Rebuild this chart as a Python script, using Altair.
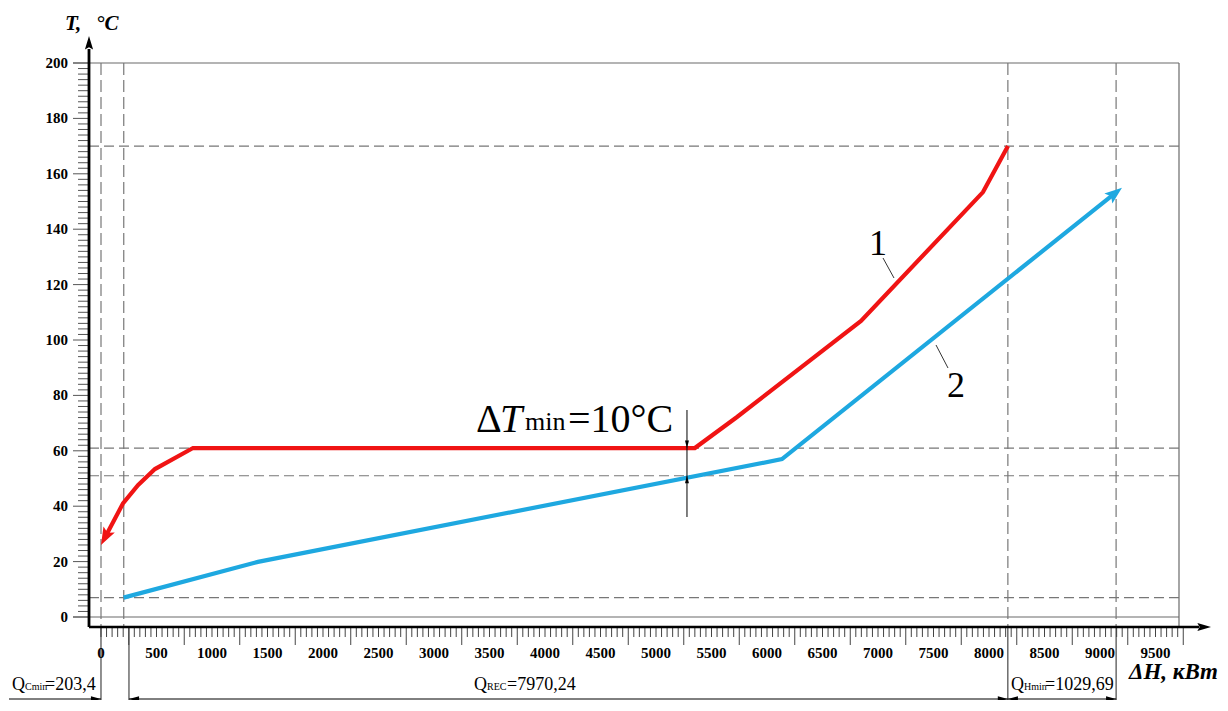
import math
import altair as alt
import pandas as pd

# ---------------- data ----------------
hot_dH = [0, 198, 333, 486, 829, 5350, 5730, 6847, 7946, 8171]
hot_T = [26, 41, 47.6, 53.4, 61, 61, 72.2, 106.9, 153.4, 170]
cold_dH = [203.4, 1414, 6135, 9198]
cold_T = [7, 19.9, 57, 155]

y_label_vals = list(range(0, 201, 20))
y_tick_vals = list(range(0, 201, 2))
x_label_vals = list(range(0, 9501, 500))
x_tick_vals = list(range(0, 9751, 50))
x_long_ticks = list(range(250, 9751, 500))

t_levels = [170, 61, 51, 7]        # dashed horizontal guides
dh_levels = [0, 205, 8170, 9145]   # dashed vertical guides
dim_marks = [0, 252, 8170, 9145]   # extension lines of the dimension chain

q_sub = ["Cmin", "REC", "Hmin"]
q_val = ["=203,4", "=7970,24", "=1029,69"]
dT_value = "=10°C"
dT_at = 5279
dT_hot, dT_cold = 61, 51

# ---------------- layout ----------------
PAD_L, PAD_T, PAD_R, PAD_B = 81, 55, 41, 73
W, H = 1090, 564
X0, X1 = -108.1, 9711.7
Y0, Y1 = -3.61, 200.0
KX = W / (X1 - X0)
KY = H / (Y1 - Y0)
ORG_X, ORG_Y = 8 + PAD_L, 8 + PAD_T
SERIF = "Liberation Serif"
RED = "#f01414"
BLUE = "#1ea8e0"


def dx(px):
    return X0 + (px - ORG_X) / KX


def dy(py):
    return Y1 - (py - ORG_Y) / KY


xs = alt.Scale(domain=[X0, X1], nice=False, zero=False)
ys = alt.Scale(domain=[Y0, Y1], nice=False, zero=False)


def ex(f="x"):
    return alt.X(f"{f}:Q", scale=xs, axis=None)


def ey(f="y"):
    return alt.Y(f"{f}:Q", scale=ys, axis=None)


def segs(rows, **mk):
    df = pd.DataFrame(rows, columns=["x", "y", "x2", "y2"])
    return alt.Chart(df).mark_rule(**mk).encode(
        x=ex(), y=ey(), x2=alt.X2("x2"), y2=alt.Y2("y2"))


NOTCH = "M0,0L-0.55,1.5L0,1.2L0.55,1.5Z"
AXHEAD = "M0,0L-0.45,1.5L0,1.25L0.45,1.5Z"
TRI = "M0,0L-0.4,1.5L0.4,1.5Z"


def heads(rows, shape):
    df = pd.DataFrame(rows, columns=["x", "y", "angle", "size", "color"])
    return alt.Chart(df).mark_point(shape=shape, filled=True, opacity=1, strokeWidth=0).encode(
        x=ex(), y=ey(),
        angle=alt.Angle("angle:Q", scale=None),
        size=alt.Size("size:Q", scale=None),
        color=alt.Color("color:N", scale=None))


def heading(xf, yf, xt, yt):
    ddx = (xt - xf) * KX
    ddy = -(yt - yf) * KY
    return math.degrees(math.atan2(ddx, -ddy)) % 360


def pull_back(xt, yt, xf, yf, dist):
    ddx = (xf - xt) * KX
    ddy = (yf - yt) * KY
    L = math.hypot(ddx, ddy)
    return xt + ddx / L * dist / KX, yt + ddy / L * dist / KY


def texts(rows, size, align="left", baseline="alphabetic", weight="normal", style="normal"):
    df = pd.DataFrame(rows, columns=["x", "y", "t"])
    return alt.Chart(df).mark_text(
        align=align, baseline=baseline, font=SERIF, fontSize=size,
        fontWeight=weight, fontStyle=style, color="black").encode(
        x=ex(), y=ey(), text="t:N")


def curve(xv, yv, color):
    df = pd.DataFrame({"x": xv, "y": yv, "i": list(range(len(xv)))})
    return alt.Chart(df).mark_line(color=color, strokeWidth=4.2, strokeJoin="miter").encode(
        x=ex(), y=ey(), order="i:Q")


layers = []
# frame
layers.append(segs([(dx(73), 200, X1, 200), (dx(73), 0, X1, 0), (X1, 200, X1, Y0)],
                   color="#6a6a6a", strokeWidth=1.2))
# dashed guides
layers.append(segs([(X0, t, X1, t) for t in t_levels], color="#777777",
                   strokeWidth=1.2, strokeDash=[10, 5]))
layers.append(segs([(v, 200, v, Y0) for v in dh_levels], color="#777777",
                   strokeWidth=1.2, strokeDash=[12, 5]))
# extension lines
layers.append(segs([(v, Y0, v, dy(712)) for v in dim_marks], color="#222222", strokeWidth=1))
# ticks
layers.append(segs([(dx(73) if t % 20 == 0 else dx(78), t, X0, t) for t in y_tick_vals],
                   color="#555555", strokeWidth=1))
layers.append(segs([(v, Y0, v, dy(645) if v in x_long_ticks else dy(637)) for v in x_tick_vals],
                   color="#444444", strokeWidth=1))
# axes
layers.append(segs([(X0, Y0, dx(1199), Y0)], color="black", strokeWidth=2.6))
layers.append(segs([(X0, Y0, X0, dy(49))], color="black", strokeWidth=2.8))
layers.append(heads([(dx(1211), Y0, 90, 330, "black"), (X0, dy(36), 0, 330, "black")], AXHEAD))

# dimension chain
y_dim = dy(699)
layers.append(segs([(dx(9), y_dim, dim_marks[0], y_dim),
                    (dim_marks[1], y_dim, dim_marks[2], y_dim),
                    (dim_marks[2], y_dim, dim_marks[3], y_dim)], color="black", strokeWidth=1))
layers.append(heads([(dim_marks[0], y_dim, 90, 180, "black"),
                     (dim_marks[1], y_dim, 270, 180, "black"),
                     (dim_marks[2], y_dim, 90, 180, "black"),
                     (dim_marks[2], y_dim, 270, 180, "black"),
                     (dim_marks[3], y_dim, 90, 180, "black")], TRI))

# curves with arrowheads
HEAD = 540
s = math.sqrt(HEAD) / 2
hx, hy = pull_back(hot_dH[0], hot_T[0], hot_dH[1], hot_T[1], s * 1.0)
layers.append(curve([hx] + hot_dH[1:], [hy] + hot_T[1:], RED))
cx, cy = pull_back(cold_dH[-1], cold_T[-1], cold_dH[-2], cold_T[-2], s * 1.0)
layers.append(curve(cold_dH[:-1] + [cx], cold_T[:-1] + [cy], BLUE))
layers.append(heads([
    (hot_dH[0], hot_T[0], heading(hot_dH[1], hot_T[1], hot_dH[0], hot_T[0]), HEAD, RED),
    (cold_dH[-1], cold_T[-1], heading(cold_dH[-2], cold_T[-2], cold_dH[-1], cold_T[-1]), HEAD, BLUE),
], NOTCH))

# delta T marker
layers.append(segs([(dT_at, dy(410), dT_at, dy(517))], color="black", strokeWidth=1))
layers.append(heads([(dT_at, dT_hot, 180, 100, "black"), (dT_at, dT_cold, 0, 100, "black")], TRI))

# leaders for curve numbers
layers.append(segs([(dx(883), dy(258), dx(894), dy(278)), (dx(936), dy(345), dx(948), dy(368))],
                   color="black", strokeWidth=0.8))

# tick labels
layers.append(texts([(dx(68), t, str(t)) for t in y_label_vals], 15, align="right",
                    baseline="middle", weight="bold"))
layers.append(texts([(v, dy(658), str(v)) for v in x_label_vals], 15, align="center", weight="bold"))
# axis titles
layers.append(texts([(dx(65), dy(30), "T,"), (dx(96), dy(30), "°C")], 21, weight="bold", style="italic"))
layers.append(texts([(dx(1218), dy(679), "ΔH, кВт")], 23, align="right", weight="bold", style="italic"))
# curve numbers
layers.append(texts([(dx(878), dy(255), "1"), (dx(956), dy(397), "2")], 36, align="center"))
# delta T text
layers.append(texts([(dx(476), dy(432), "Δ"), (dx(568), dy(432), dT_value)], 40))
layers.append(texts([(dx(500), dy(432), "T")], 40, style="italic"))
layers.append(texts([(dx(525), dy(430), "min")], 26))
# Q texts
layers.append(texts([(dx(12), dy(690), "Q"), (dx(474), dy(690), "Q"), (dx(1011), dy(690), "Q"),
                     (dx(45), dy(690), q_val[0]), (dx(507), dy(690), q_val[1]),
                     (dx(1045), dy(690), q_val[2])], 18))
layers.append(texts([(dx(25), dy(690), q_sub[0]), (dx(487), dy(690), q_sub[1]),
                     (dx(1024), dy(690), q_sub[2])], 10))

chart = alt.layer(*layers).properties(
    width=W, height=H,
    padding={"left": PAD_L, "top": PAD_T, "right": PAD_R, "bottom": PAD_B},
    autosize=alt.AutoSizeParams(type="none"),
    background="white",
).configure_view(stroke=None)

chart.save("out.html", embed_options={"renderer": "svg", "actions": False})
